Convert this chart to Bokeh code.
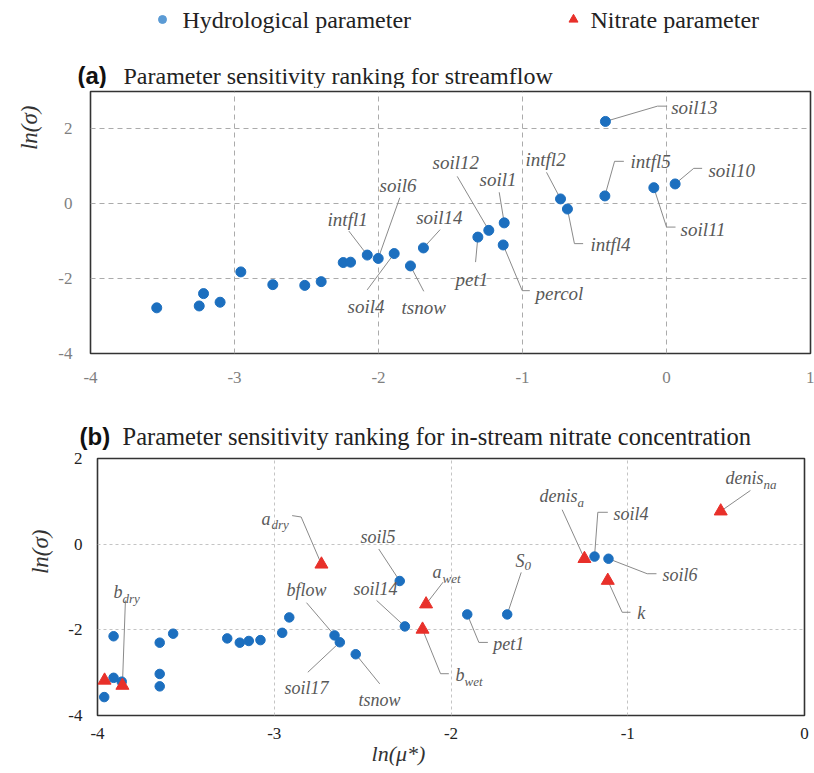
from bokeh.plotting import figure
from bokeh.models import Range1d, Title
from bokeh.embed import file_html
from bokeh.resources import INLINE
from bokeh.core.properties import value

# ---------------- data ----------------
legend_labels = ["Hydrological parameter", "Nitrate parameter"]

a_tag = "(a)"
a_title = "Parameter sensitivity ranking for streamflow"
a_names = ["", "", "", "", "", "", "", "", "", "",
           "intfl1", "soil6", "soil4", "tsnow", "soil14", "pet1", "soil12",
           "soil1", "percol", "intfl2", "intfl4", "soil13", "intfl5",
           "soil11", "soil10"]
a_mu = [-3.54, -3.245, -3.215, -3.10, -2.956, -2.734, -2.512, -2.398, -2.245, -2.194,
        -2.078, -2.002, -1.891, -1.778, -1.688, -1.310, -1.234,
        -1.127, -1.134, -0.736, -0.688, -0.424, -0.428,
        -0.088, 0.060]
a_sigma = [-2.78, -2.73, -2.40, -2.63, -1.82, -2.16, -2.18, -2.08, -1.57, -1.56,
           -1.37, -1.46, -1.33, -1.66, -1.18, -0.89, -0.71,
           -0.51, -1.10, 0.13, -0.14, 2.20, 0.21,
           0.43, 0.53]
a_xticks = [-4, -3, -2, -1, 0, 1]
a_yticks = [-4, -2, 0, 2]

b_tag = "(b)"
b_title = "Parameter sensitivity ranking for in-stream nitrate concentration"
bh_names = ["", "", "", "", "", "", "", "", "", "", "", "", "", "",
            "bflow", "soil17", "tsnow", "soil5", "soil14", "pet1", "S", "soil4", "soil6"]
bh_subs = ["", "", "", "", "", "", "", "", "", "", "", "", "", "",
           "", "", "", "", "", "", "0", "", ""]
bh_mu = [-3.962, -3.909, -3.909, -3.863, -3.648, -3.648, -3.648, -3.572, -3.266, -3.195,
         -3.144, -3.078, -2.955, -2.915,
         -2.659, -2.629, -2.539, -2.290, -2.261, -1.908, -1.682, -1.188, -1.109]
bh_sigma = [-3.57, -3.12, -2.15, -3.21, -2.30, -3.03, -3.32, -2.09, -2.20, -2.30,
            -2.26, -2.24, -2.07, -1.71,
            -2.13, -2.29, -2.57, -0.86, -1.92, -1.64, -1.64, -0.29, -0.34]
bn_names = ["", "b", "a", "a", "b", "denis", "k", "denis"]
bn_subs = ["", "dry", "dry", "wet", "wet", "a", "", "na"]
bn_mu = [-3.960, -3.859, -2.733, -2.141, -2.161, -1.245, -1.113, -0.474]
bn_sigma = [-3.18, -3.30, -0.47, -1.40, -1.99, -0.34, -0.85, 0.77]
b_xticks = [-4, -3, -2, -1, 0]
b_yticks = [-4, -2, 0, 2]

y_label = "ln(σ)"
x_label = "ln(μ*)"

# ---------------- styling / layout ----------------
SERIF = "Liberation Serif"
SANS = "Liberation Sans"
HYD = "#1c6fbf"
NIT = "#e8302a"
LEAD = "#8a8a8a"
LBL = "#595959"
W = 814

# label layout: pixel offsets from the marker (x right, y down)
# (text anchor, subscript anchor or None, leader-line vertices)
LAYOUT_A = {
    "intfl1": ((-39.7, -35.2), None, [(-18.4, -24)]),
    "soil6": ((1.3, -72.5), None, [(21.6, -60.7)]),
    "soil4": ((-46.7, 52.5), None, [(-27, 36.3)]),
    "tsnow": ((-9, 41.7), None, [(13.3, 25.4)]),
    "soil14": ((-7.3, -30.8), None, [(16.7, -18.3)]),
    "soil12": ((-56.3, -67.5), None, [(-31.6, -54)]),
    "pet1": ((-22.3, 42.3), None, [(-2.3, 25)]),
    "soil1": ((-24.7, -43.8), None, [(-5, -30.6)]),
    "percol": ((32.3, 48.2), None, [(19, 45.7), (26.6, 45.7)]),
    "intfl2": ((-35, -39.8), None, [(-14, -26.6)]),
    "intfl4": ((23, 35.8), None, [(7, 34.6), (15.7, 34.6)]),
    "intfl5": ((25.7, -34.8), None, [(9.7, -34.6), (19, -34.6)]),
    "soil13": ((65.7, -13.5), None, [(52, -15.3), (61.7, -15.3)]),
    "soil10": ((33.3, -13.8), None, [(18.6, -15.6), (27, -15.6)]),
    "soil11": ((26.7, 42.2), None, [(12.7, 39.4), (21.7, 39.4)]),
}
LAYOUT_B = {
    "bflow": ((-48, -45.5), None, [(-28, -32.7)]),
    "soil17": ((-55.3, 45.3), None, [(-32, 30)]),
    "tsnow": ((2.7, 45.3), None, [(24, 29.6)]),
    "soil5": ((-39.3, -43.8), None, [(-21, -32)]),
    "soil14": ((-51.3, -37.5), None, [(-28.3, -26)]),
    "pet1": ((26, 29.3), None, [(11.6, 28), (20.6, 28)]),
    "S_0": ((8.3, -53.7), (17.3, -48.7), [(14, -42)]),
    "soil4": ((19, -42.5), None, [(3.3, -44.3), (13.3, -44.3)]),
    "soil6": ((54, 16.7), None, [(38.7, 15), (48, 15)]),
    "b_dry": ((-9, -94), (0, -87), [(3, -85)]),
    "a_dry": ((-60, -45), (-50, -40), [(-20.3, -47.3), (-29.3, -48.7)]),
    "a_wet": ((6.5, -31.7), (16.5, -25.7), [(17, -22)]),
    "b_wet": ((33, 45.5), (42, 52), [(18, 44.3), (26.3, 44.3)]),
    "denis_a": ((-45, -62.8), (-7, -56.3), [(-22.3, -49)]),
    "k": ((29.4, 32.5), None, [(14.4, 31.7), (22.7, 31.7)]),
    "denis_na": ((4.7, -33.2), (42.7, -26.7), [(29.7, -20.7)]),
}


def strip(h):
    s = figure(width=W, height=h, x_range=Range1d(0, W), y_range=Range1d(h, 0),
               min_border=0, toolbar_location=None, output_backend="svg")
    s.axis.visible = False
    s.grid.visible = False
    s.outline_line_color = None
    return s


def panel(fw, fh, xr, yr, left, right, top, bottom, tick_color, grid_color, dash,
          xt, yt, xstand, ystand):
    p = figure(frame_width=fw, frame_height=fh,
               x_range=Range1d(*xr), y_range=Range1d(*yr),
               min_border_left=left, min_border_right=right,
               min_border_top=top, min_border_bottom=bottom,
               toolbar_location=None, output_backend="svg")
    p.xaxis.ticker = xt
    p.yaxis.ticker = yt
    p.xaxis.major_label_overrides = {t: str(t) for t in xt}
    p.yaxis.major_label_overrides = {t: str(t) for t in yt}
    for ax in (p.xaxis, p.yaxis):
        ax.axis_line_color = None
        ax.major_tick_line_color = None
        ax.minor_tick_line_color = None
        ax.major_tick_in = 0
        ax.major_tick_out = 0
        ax.major_label_text_font = SERIF
        ax.major_label_text_font_size = "17px"
        ax.major_label_text_color = tick_color
    p.xaxis.major_label_standoff = xstand
    p.yaxis.major_label_standoff = ystand
    for g in (p.xgrid, p.ygrid):
        g.grid_line_color = grid_color
        g.grid_line_dash = dash
        g.grid_line_width = 1
    p.outline_line_color = "#333333"
    p.outline_line_width = 1.6
    return p


def annotate(p, names, subs, xs, ys, layout, pxx, pxy, fs, sfs):
    lx, ly, tx, ty, tt, sx, sy, st = [], [], [], [], [], [], [], []
    for n, s, x, y in zip(names, subs, xs, ys):
        if not n:
            continue
        key = n + ("_" + s if s else "")
        t, sub, line = layout[key]
        pts = [(0, 0)] + line
        lx.append([x + dx / pxx for dx, dy in pts])
        ly.append([y - dy / pxy for dx, dy in pts])
        tx.append(x + t[0] / pxx)
        ty.append(y - t[1] / pxy)
        tt.append(n)
        if s:
            sx.append(x + sub[0] / pxx)
            sy.append(y - sub[1] / pxy)
            st.append(s)
    p.multi_line(lx, ly, line_color=LEAD, line_width=1)
    texts = [(tx, ty, tt, fs)]
    if st:
        texts.append((sx, sy, st, sfs))
    return texts


def draw_texts(p, texts):
    for X, Y, T, size in texts:
        p.text(X, Y, text=T, text_font=value(SERIF), text_font_style="italic",
               text_font_size=size, text_color=LBL, text_align="left",
               text_baseline="middle")


def ylabel_title(p, offset, standoff):
    p.add_layout(Title(text=y_label, text_font=SERIF, text_font_style="italic",
                       text_font_size="23px", text_color="#333333", align="right",
                       offset=offset, standoff=standoff, vertical_align="top"), "left")


# ---------------- header: legend + title (a) ----------------
HA_TOP, HA_H = 0, 88
head_a = strip(HA_H)
head_a.scatter([162], [19 - HA_TOP], marker="circle", size=8, color="#5b9bd5")
head_a.scatter([573], [19 - HA_TOP], marker="triangle", size=9, color=NIT)
head_a.text([182, 590], [19 - HA_TOP] * 2, text=legend_labels,
            text_font=value(SERIF), text_font_size="24px", text_color="#222222",
            text_align="left", text_baseline="middle")
head_a.text([77], [75 - HA_TOP], text=[a_tag], text_font=value(SANS),
            text_font_style="bold", text_font_size="24px", text_color="#111111",
            text_align="left", text_baseline="middle")
head_a.text([123], [75 - HA_TOP], text=[a_title], text_font=value(SERIF),
            text_font_size="24px", text_color="#222222", text_align="left",
            text_baseline="middle")

# ---------------- panel (a) ----------------
A_FW, A_FH = 720, 262
A_XR, A_YR = (-4, 1), (-4, 3)
pa = panel(A_FW, A_FH, A_XR, A_YR, 90, 4, 3, 47, "#7f7f7f", "#ababab", "5 4",
           a_xticks, a_yticks, 18, 18)
a_pxx = A_FW / (A_XR[1] - A_XR[0])
a_pxy = A_FH / (A_YR[1] - A_YR[0])
texts_a = annotate(pa, a_names, [""] * len(a_names), a_mu, a_sigma, LAYOUT_A,
                   a_pxx, a_pxy, "19px", "13px")
pa.scatter(a_mu, a_sigma, marker="circle", size=10, color=HYD)
draw_texts(pa, texts_a)
ylabel_title(pa, 14, 23)

# ---------------- header: title (b) ----------------
HB_TOP, HB_H = 400, 50
head_b = strip(HB_H)
head_b.text([79], [436 - HB_TOP], text=[b_tag], text_font=value(SANS),
            text_font_style="bold", text_font_size="24px", text_color="#111111",
            text_align="left", text_baseline="middle")
head_b.text([122], [436 - HB_TOP], text=[b_title], text_font=value(SERIF),
            text_font_size="24.5px", text_color="#222222", text_align="left",
            text_baseline="middle")

# ---------------- panel (b) ----------------
B_FW, B_FH = 707, 257
B_XR, B_YR = (-4, 0), (-4, 2)
pb = panel(B_FW, B_FH, B_XR, B_YR, 97, 10, 8, 27, "#222222", "#c4c4c4", "3 3",
           b_xticks, b_yticks, 12, 15)
b_pxx = B_FW / (B_XR[1] - B_XR[0])
b_pxy = B_FH / (B_YR[1] - B_YR[0])
texts_bh = annotate(pb, bh_names, bh_subs, bh_mu, bh_sigma, LAYOUT_B,
                    b_pxx, b_pxy, "18px", "13px")
texts_bn = annotate(pb, bn_names, bn_subs, bn_mu, bn_sigma, LAYOUT_B,
                    b_pxx, b_pxy, "18px", "13px")
pb.scatter(bh_mu, bh_sigma, marker="circle", size=9.5, color=HYD)
pb.scatter(bn_mu, bn_sigma, marker="triangle", size=13, color=NIT)
draw_texts(pb, texts_bh + texts_bn)
ylabel_title(pb, 71, 22)

# ---------------- footer: x label ----------------
F_TOP, F_H = 742, 29
foot = strip(F_H)
foot.text([398], [753 - F_TOP], text=[x_label], text_font=value(SERIF),
          text_font_style="italic", text_font_size="22px", text_color="#333333",
          text_align="center", text_baseline="middle")

roots = [head_a, pa, head_b, pb, foot]
open("out.html", "w").write(file_html(roots, INLINE))
